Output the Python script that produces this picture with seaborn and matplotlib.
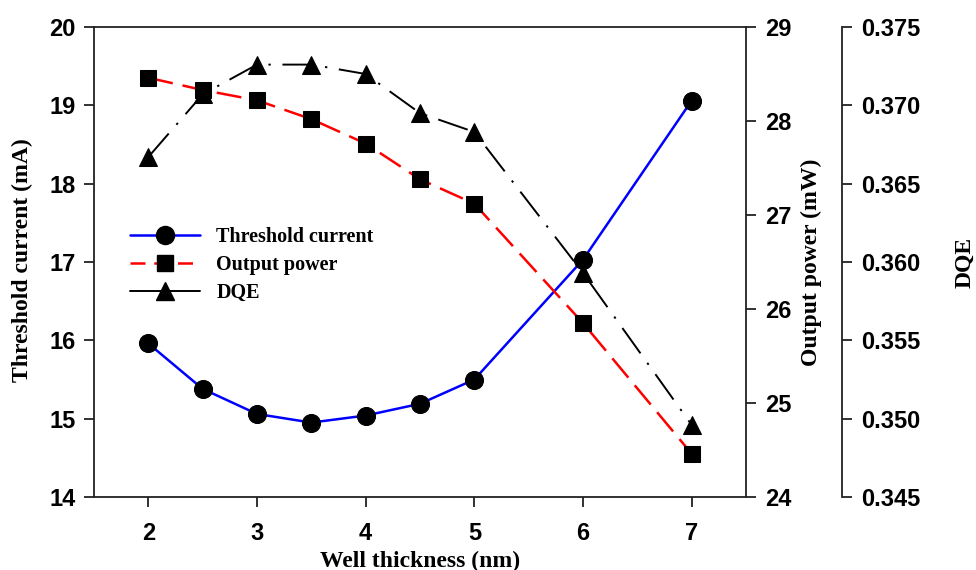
import matplotlib
matplotlib.use("Agg")
import matplotlib.pyplot as plt
import seaborn as sns
from matplotlib.lines import Line2D

thickness = [2, 2.5, 3, 3.5, 4, 4.5, 5, 6, 7]
threshold_current = [15.96, 15.38, 15.06, 14.95, 15.04, 15.19, 15.50, 17.03, 19.06]
output_power = [28.46, 28.33, 28.22, 28.02, 27.76, 27.38, 27.12, 25.85, 24.46]
dqe = [0.3667, 0.3707, 0.3726, 0.3726, 0.3720, 0.3695, 0.3683, 0.3593, 0.3496]

xticks = [2, 3, 4, 5, 6, 7]
yticks_left = [14, 15, 16, 17, 18, 19, 20]
yticks_power = [24, 25, 26, 27, 28, 29]
yticks_dqe = [0.345, 0.350, 0.355, 0.360, 0.365, 0.370, 0.375]

sns.set_style("ticks")
plt.rcParams['font.family'] = ['Liberation Sans', 'DejaVu Sans']
plt.rcParams['font.weight'] = 'bold'
plt.rcParams['text.color'] = 'black'
plt.rcParams['axes.labelcolor'] = 'black'
plt.rcParams['xtick.color'] = 'black'
plt.rcParams['ytick.color'] = 'black'

fig = plt.figure(figsize=(9.76, 5.70), dpi=100)
ax = fig.add_axes([94/976, 73/570, 652/976, 470/570])
ax2 = ax.twinx()
ax3 = ax.twinx()
ax3.spines['right'].set_position(('outward', 69))

ms = 13
sns.lineplot(x=thickness, y=threshold_current, ax=ax, color='blue', lw=1.8,
             marker='o', markersize=ms, markerfacecolor='black',
             markeredgecolor='black', legend=False)
sns.lineplot(x=thickness, y=output_power, ax=ax2, color='red', lw=1.8,
             marker='s', markersize=ms - 1.5, markerfacecolor='black',
             markeredgecolor='black', legend=False)
ax2.lines[0].set_dashes([10, 4])
sns.lineplot(x=thickness, y=dqe, ax=ax3, color='black', lw=1.4,
             marker='^', markersize=ms, markerfacecolor='black',
             markeredgecolor='black', legend=False)
ax3.lines[0].set_dashes([16, 6, 1.2, 6])

ax.set_xlim(1.5, 7.5)
ax.set_ylim(14, 20)
ax2.set_ylim(24, 29)
ax3.set_ylim(0.345, 0.375)
ax.set_xticks(xticks, labels=[str(v) for v in xticks], fontsize=17, fontweight='bold')
ax.set_yticks(yticks_left, labels=[str(v) for v in yticks_left], fontsize=17, fontweight='bold')
ax2.set_yticks(yticks_power, labels=[str(v) for v in yticks_power], fontsize=17, fontweight='bold')
ax3.set_yticks(yticks_dqe, labels=[f"{v:.3f}" for v in yticks_dqe], fontsize=17, fontweight='bold')

for a in (ax, ax2, ax3):
    a.tick_params(direction='out', length=7, width=1.3, color='#222222')
ax.tick_params(axis='x', pad=11)
ax.tick_params(axis='y', pad=6)
ax2.tick_params(axis='y', pad=7)
ax3.tick_params(axis='y', pad=7)

for s in ['top', 'bottom', 'left']:
    ax3.spines[s].set_visible(False)
    ax2.spines[s].set_visible(False)
for a in (ax, ax2, ax3):
    for s in a.spines.values():
        s.set_linewidth(1.3)
        s.set_color('#222222')
ax.spines['right'].set_visible(False)

lab_font = dict(fontsize=17, fontweight='bold', family=['Liberation Serif', 'DejaVu Serif'])
ax.set_xlabel('Well thickness (nm)', labelpad=4, **lab_font)
ax.set_ylabel('Threshold current (mA)', rotation=90, ha='center', va='center', **lab_font)
ax2.set_ylabel('Output power (mW)', rotation=90, ha='center', va='center', **lab_font)
ax3.set_ylabel('DQE', rotation=90, ha='center', va='center', **lab_font)
ax.yaxis.set_label_coords(-0.1104, 0.503)
ax2.yaxis.set_label_coords(1.0997, 0.50)
ax3.yaxis.set_label_coords(1.336, 0.50)

handles = [
    Line2D([], [], color='blue', lw=1.8, marker='o', markersize=ms,
           markerfacecolor='black', markeredgecolor='black'),
    Line2D([], [], color='red', lw=1.8, dashes=[6, 3.5], marker='s', markersize=ms - 1.5,
           markerfacecolor='black', markeredgecolor='black'),
    Line2D([], [], color='black', lw=1.4, marker='^', markersize=ms,
           markerfacecolor='black', markeredgecolor='black'),
]
labels = ['Threshold current', 'Output power', 'DQE']
ax.legend(handles, labels, loc='center left', bbox_to_anchor=(0.055, 0.494),
          frameon=False, borderpad=0, borderaxespad=0, handlelength=3.5,
          handletextpad=0.8, labelspacing=0.4,
          prop=dict(size=14.5, weight='bold', family=['Liberation Serif', 'DejaVu Serif']))

fig.savefig('out.png', dpi=100)
